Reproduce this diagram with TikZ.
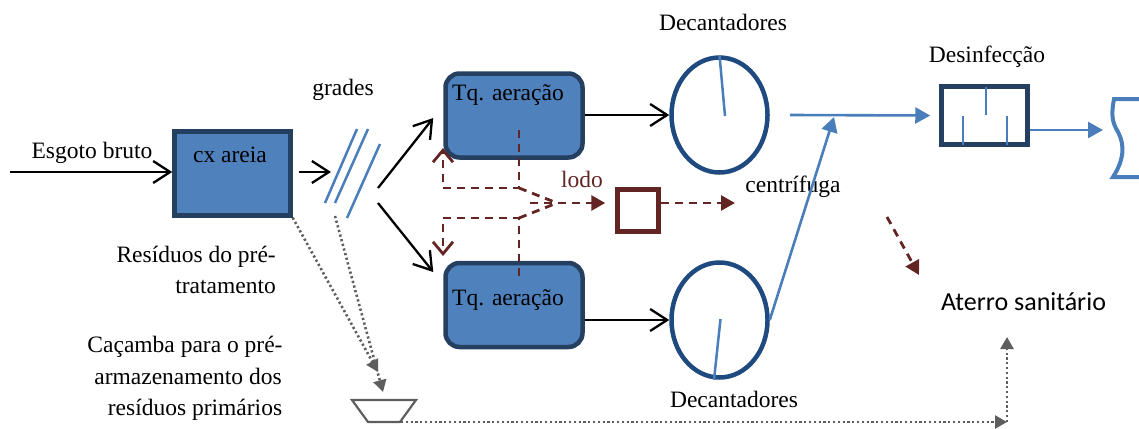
\documentclass[tikz,border=0pt]{standalone}
\usepackage{fontspec}
\setmainfont{Liberation Serif}
\newfontfamily\labelsans{Carlito}
\usetikzlibrary{arrows.meta,shapes.geometric,calc}

\definecolor{fillblue}{HTML}{4F81BD}
\definecolor{edgeblue}{HTML}{243F60}
\definecolor{ringblue}{HTML}{1F4A7F}
\definecolor{lineblue}{HTML}{4A7EBB}
\definecolor{sludge}{HTML}{632523}
\definecolor{dotgray}{HTML}{5E5E5E}

\tikzset{
  txt/.style={inner sep=0pt, anchor=base, font=\fontsize{23.5}{31}\selectfont},
  box/.style={draw=edgeblue, fill=fillblue, line width=4.5pt, inner sep=0pt},
  sandbox/.style={box, minimum width=116pt, minimum height=84pt},
  tank/.style={box, rounded corners=14pt, minimum width=137pt, minimum height=84pt},
  settler/.style={ellipse, draw=ringblue, line width=4.5pt, inner sep=0pt,
                  minimum width=96pt, minimum height=115pt},
  disinf/.style={draw=edgeblue, fill=white, line width=4.5pt, inner sep=0pt,
                 minimum width=86pt, minimum height=58pt},
  press/.style={draw=sludge, fill=white, line width=4.5pt, inner sep=0pt,
                minimum width=41pt, minimum height=42pt},
  flow/.style={black, line width=2.3pt, -{Straight Barb[length=17pt,width=22pt]}},
  baffle/.style={lineblue, line width=2.5pt},
  clean/.style={lineblue, line width=2.6pt, -{Triangle[length=15pt,width=16pt]}},
  sludgeline/.style={sludge, line width=2.8pt, dash pattern=on 8pt off 6pt},
  sludgeopen/.style={sludgeline, -{Straight Barb[length=12pt,width=20pt]}},
  sludgefill/.style={sludgeline, -{Triangle[length=14pt,width=15pt]}},
  waste/.style={dotgray, line width=2.6pt, dash pattern=on 2.2pt off 2.6pt,
                -{Triangle[length=12pt,width=13pt]}},
  bin/.style={dotgray, line width=2.2pt, fill=white, line join=miter},
}

\begin{document}
\begin{tikzpicture}[x=1pt, y=-1pt]
\useasboundingbox (0,0) rectangle (1139,428);

% --- main units ---------------------------------------------------------
\node[sandbox] (cx) at (232.5,173.5) {};
\node[tank] (t1) at (514,115.5) {};
\node[tank] (t2) at (514,305) {};
\node[settler] (s1) at (719.5,115) {};
\node[settler] (s2) at (719.5,320) {};
\node[disinf] (ds) at (984.5,115.5) {};
\node[press] (sq) at (638,210.5) {};

% --- labels -------------------------------------------------------------
\node[txt] (lesg) at (92,158) {Esgoto bruto};
\node[txt] (lcx)  at (230,162) {cx areia};
\node[txt] (lgr)  at (343,95)  {grades};
\node[txt] (lt1)  at (508,100) {Tq. aeração};
\node[txt] (lt2)  at (508,305) {Tq. aeração};
\node[txt, text=sludge] (llodo) at (582,187) {lodo};
\node[txt] (ldec1) at (723,31)  {Decantadores};
\node[txt] (ldec2) at (734,407) {Decantadores};
\node[txt] (lcen) at (793,192) {centrífuga};
\node[txt] (ldes) at (987,63)  {Desinfecção};
\node[txt, font=\labelsans\fontsize{26}{31}\selectfont] (lat) at (1023.5,310) {Aterro sanitário};
\node[txt, anchor=base east] (lres1) at (276,262) {Resíduos do pré-};
\node[txt, anchor=base east] (lres2) at (276,293) {tratamento};
\node[txt] (lcac1) at (185,352) {Caçamba para o pré-};
\node[txt] (lcac2) at (188,384) {armazenamento dos};
\node[txt] (lcac3) at (195,415) {resíduos primários};

% --- screens (grades) ---------------------------------------------------
\draw[baffle] (325,203) -- (357,129);
\draw[baffle] (335,203) -- (368,129);
\draw[baffle] (347,218) -- (380,144);
\coordinate (gin) at (331,172);
\coordinate (gup) at (378,188);
\coordinate (gdn) at (378,203);
\coordinate (gbot) at (335,216);

% --- main flow ----------------------------------------------------------
\coordinate (src) at (10,172);
\draw[flow] (src) -- (cx.west |- src);
\draw[flow, shorten <=6pt] (cx.east |- gin) -- (gin);
\draw[flow] (gup) -- ($(t1.west)+(-10,2.5)$);
\draw[flow] (gdn) -- ($(t2.west)+(-10,-33)$);
\draw[flow] (t1.east |- s1.west) -- (s1.west);
\draw[flow] (t2.east |- s2.west) -- (s2.west);

% settler scrapers
\draw[baffle] (s1.north) -- ($(s1.center)+(5.5,1)$);
\draw[baffle] ($(s2.center)+(1,-1)$) -- ($(s2.south)+(-5.5,0)$);

% clarified effluent
\coordinate (jn) at (834,117);
\draw[clean] ($(s1.east)+(20,0)$) -- ($(ds.west)+(-9,0)$);
\draw[clean] (s2.east) -- (jn);

% disinfection baffles
\draw[baffle] (986,86.5) -- (986,115);
\draw[baffle] (963,116) -- (963,144.5);
\draw[baffle] (1007,116) -- (1007,144.5);

% receiving body
\coordinate (rcv) at (1103,130);
\draw[clean] ($(ds.east)+(0,14.5)$) -- (rcv);
\draw[lineblue, line width=4pt] (1145,99) -- (1114,99)
  .. controls (1111,115) and (1112,122) .. (1118,132)
  .. controls (1125,145) and (1124,160) .. (1113,177) -- (1145,177);

% --- sludge lines -------------------------------------------------------
\coordinate (r1) at (519,130);
\coordinate (r2) at (519,276);
\coordinate (j1) at (519,188);
\coordinate (j2) at (519,218);
\coordinate (mg) at (530,203);
\coordinate (tip) at (557,203);
\draw[sludgeopen] (r1) -- (j1) -- (443,188) -- (443,148);
\draw[sludgeopen] (r2) -- (j2) -- (443,218) -- (443,256);
\draw[sludgeline] (j1) -- (tip);
\draw[sludgeline] (j2) -- (tip);
\draw[sludgefill, shorten >=10pt] (mg) -- (sq.west |- mg);
\coordinate (cf) at (735,203);
\draw[sludgefill] (sq.east |- mg) -- (cf);
\coordinate (d1) at (887,217);
\coordinate (d2) at (919,275);
\draw[sludgefill] (d1) -- (d2);

% --- screenings and grit to skip ---------------------------------------
\coordinate (w1) at (378,372);
\coordinate (w2) at (383,392);
\draw[waste] (cx.south east) -- (w1);
\draw[waste] (gbot) -- (w2);
\draw[bin] (352,400) -- (416,400) -- (400,422) -- (368,422) -- cycle;
\coordinate (cbo) at (401,422);
\coordinate (a1) at (1007,422);
\coordinate (a2) at (1007,337);
\draw[waste] (cbo) -- (a1);
\draw[waste] (a1) -- (a2);
\end{tikzpicture}
\end{document}
